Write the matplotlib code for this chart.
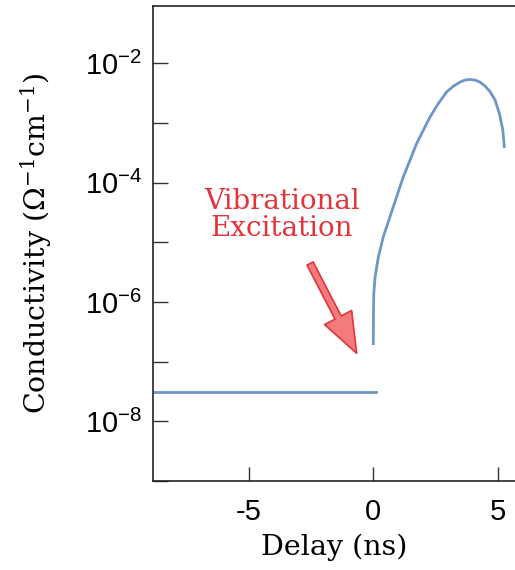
import numpy as np
import matplotlib.pyplot as plt
from matplotlib.ticker import FixedLocator, FuncFormatter

plt.rcParams["font.family"] = ["Liberation Sans", "DejaVu Sans"]
plt.rcParams["axes.unicode_minus"] = False

# conductivity before the excitation pulse (flat background)
delay_pre = [-8.85, 0.1]
sigma_pre = [3.05e-8, 3.05e-8]

# conductivity rise and decay after vibrational excitation
delay_post = [0.0, 0.005, 0.02, 0.07, 0.20, 0.40, 0.80, 1.20, 1.47, 1.74,
              2.28, 2.61, 2.95, 3.22, 3.48, 3.68, 3.88, 4.08, 4.29, 4.49,
              4.69, 4.89, 5.06, 5.20, 5.26]
sigma_post = [2.0e-7, 6.5e-7, 1.4e-6, 2.6e-6, 5.6e-6, 1.23e-5, 3.9e-5,
              1.23e-4, 2.35e-4, 4.5e-4, 1.26e-3, 2.1e-3, 3.3e-3, 4.11e-3,
              4.79e-3, 5.19e-3, 5.32e-3, 5.19e-3, 4.79e-3, 4.11e-3,
              3.31e-3, 2.40e-3, 1.45e-3, 7.6e-4, 4.0e-4]

x_ticks = [-5, 0, 5]
y_decades = [1e-9, 1e-8, 1e-7, 1e-6, 1e-5, 1e-4, 1e-3, 1e-2, 1e-1]

line_color = "#6f96c6"
red = "#e2343b"
serif = ["DejaVu Serif"]


def decade_label(v, pos):
    # only even decades carry a label
    exp = int(round(np.log10(v)))
    if exp % 2:
        return ""
    return r"$\mathregular{10^{%d}}$" % exp


fig = plt.figure(figsize=(5.15, 5.7), dpi=100)
ax = fig.add_axes([0.297, 0.156, 0.703, 0.8335])

ax.plot(delay_pre, sigma_pre, color=line_color, lw=2)
ax.plot(delay_post, sigma_post, color=line_color, lw=2)

ax.set_yscale("log")
ax.set_xlim(-8.85, 5.69)
ax.set_ylim(1e-9, 10 ** -1.044)

ax.yaxis.set_major_locator(FixedLocator(y_decades))
ax.yaxis.set_major_formatter(FuncFormatter(decade_label))
ax.yaxis.set_minor_locator(FixedLocator([]))
ax.set_xticks(x_ticks)
ax.set_xticklabels([str(t) for t in x_ticks])

ax.tick_params(axis="y", direction="in", length=11, width=1, color="#333333",
               labelsize=21, pad=8)
ax.tick_params(axis="x", direction="in", length=10, width=1, color="#333333",
               labelsize=21, pad=12)

for side in ["left", "bottom", "top"]:
    ax.spines[side].set_color("#222222")
    ax.spines[side].set_linewidth(1.2)
ax.spines["right"].set_visible(False)

ax.set_xlabel("Delay (ns)", family=serif, fontsize=20.5, labelpad=6)
ax.set_ylabel(r"Conductivity $\mathregular{(Ω^{-1}cm^{-1})}$",
              family=serif, fontsize=20.5, labelpad=22)

ax.annotate("", xy=(-0.67, 1.38e-7), xytext=(-2.54, 4.4e-6),
            arrowprops=dict(arrowstyle="simple,head_length=1.45,head_width=1.1,tail_width=0.25",
                            mutation_scale=20, shrinkA=0, shrinkB=0,
                            fc="#f27c7c", ec=red, lw=1.2))
ax.text(-3.67, 2.9e-5, "Vibrational\nExcitation", color=red,
        family=serif, fontsize=20, ha="center", va="center",
        linespacing=1.0)

fig.savefig("out.png", dpi=100)
